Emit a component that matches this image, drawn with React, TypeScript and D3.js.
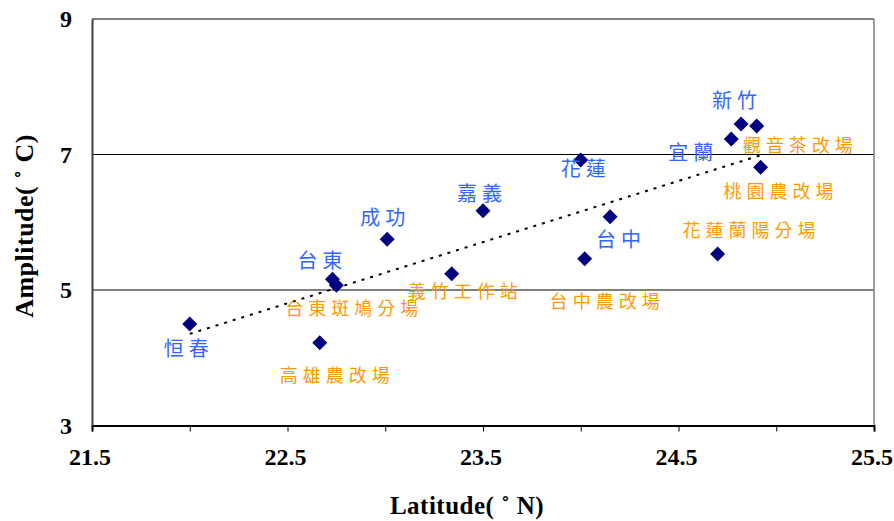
import * as d3 from "d3";
import React, { useRef, useEffect } from "react";

// station names, latitude (°N) and annual amplitude (°C)
const stations = [
  "恒春", "高雄農改場", "台東", "台東斑鳩分場", "成功", "義竹工作站", "嘉義",
  "花蓮", "台中", "台中農改場", "花蓮蘭陽分場", "宜蘭", "新竹", "觀音茶改場", "桃園農改場",
];
const latitude = [22.0, 22.665, 22.73, 22.75, 23.01, 23.34, 23.5, 24.0, 24.15, 24.02, 24.7, 24.77, 24.82, 24.9, 24.92];
const amplitude = [4.5, 4.22, 5.16, 5.07, 5.75, 5.24, 6.17, 6.92, 6.08, 5.46, 5.53, 7.23, 7.45, 7.42, 6.81];
// weather stations (blue) vs. agricultural stations (orange)
const stationType = ["cwb", "agri", "cwb", "agri", "cwb", "agri", "cwb", "cwb", "cwb", "agri", "agri", "cwb", "cwb", "agri", "agri"];

const xTicks = [21.5, 22.5, 23.5, 24.5, 25.5];
const yTicks = [3, 5, 7, 9];

// label placement, pixels from the marker
const labelOffsets = [
  [-26, 32], [-40, 39], [-35, -11], [-51, 30], [-27, -14], [-44, 24], [-26, -10],
  [-20, 16], [-14, 30], [-35, 49], [-35, -17], [-63, 21], [-29, -16], [-14, 26], [-37, 31],
];

const W = 894;
const H = 521;

const App = () => {
  const ref = useRef<SVGSVGElement | null>(null);

  useEffect(() => {
    const svg = d3.select(ref.current);
    svg.selectAll("*").remove();

    const x = d3.scaleLinear().domain([21.5, 25.5]).range([92, 874]);
    const y = d3.scaleLinear().domain([3, 9]).range([425.5, 19]);
    const serif = "'Liberation Serif', 'Times New Roman', serif";

    // grid + frame
    const grid = svg.append("g");
    grid.append("line").attr("x1", x(21.5)).attr("x2", x(25.5)).attr("y1", y(7)).attr("y2", y(7))
      .attr("stroke", "#000").attr("stroke-width", 1);
    grid.append("line").attr("x1", x(21.5)).attr("x2", x(25.5)).attr("y1", y(5)).attr("y2", y(5))
      .attr("stroke", "#808080").attr("stroke-width", 2);
    grid.append("line").attr("x1", x(21.5)).attr("x2", x(25.5)).attr("y1", y(9)).attr("y2", y(9))
      .attr("stroke", "#808080").attr("stroke-width", 2);
    grid.append("line").attr("x1", x(25.5)).attr("x2", x(25.5)).attr("y1", y(9)).attr("y2", y(3))
      .attr("stroke", "#808080").attr("stroke-width", 1.5);

    // x axis
    const xAxis = svg.append("g").attr("transform", `translate(0,${y(3)})`)
      .call(d3.axisBottom(x).tickValues(d3.range(21.5, 25.51, 0.5)).tickSize(6).tickFormat(() => ""));
    xAxis.select(".domain").attr("stroke", "#000").attr("stroke-width", 2);
    xAxis.selectAll(".tick line").attr("stroke", "#000");
    svg.append("g").selectAll("text").data(xTicks).enter().append("text")
      .attr("x", (d) => x(d) - 2).attr("y", 465)
      .attr("text-anchor", "middle").attr("font-family", serif).attr("font-weight", "bold")
      .attr("font-size", 24).text((d) => d.toFixed(1));

    // y axis
    const yAxis = svg.append("g").attr("transform", `translate(${x(21.5)},0)`)
      .call(d3.axisLeft(y).tickValues(yTicks).tickSize(0).tickFormat(() => ""));
    yAxis.select(".domain").attr("stroke", "#404040").attr("stroke-width", 2);
    svg.append("g").selectAll("text").data(yTicks).enter().append("text")
      .attr("x", 72).attr("y", (d) => y(d) + 8)
      .attr("text-anchor", "end").attr("font-family", serif).attr("font-weight", "bold")
      .attr("font-size", 24).text((d) => d);

    // axis titles
    svg.append("text").attr("x", 467).attr("y", 514).attr("text-anchor", "middle")
      .attr("font-family", serif).attr("font-weight", "bold").attr("font-size", 25)
      .attr("letter-spacing", 0.5)
      .text("Latitude( ˚ N)");
    svg.append("text").attr("transform", "translate(33,226) rotate(-90)").attr("text-anchor", "middle")
      .attr("font-family", serif).attr("font-weight", "bold").attr("font-size", 26)
      .attr("letter-spacing", 0.5)
      .text("Amplitude( ˚ C)");

    // linear trend (least squares)
    const mx = d3.mean(latitude) as number;
    const my = d3.mean(amplitude) as number;
    const sxy = d3.sum(latitude, (v, i) => (v - mx) * (amplitude[i] - my));
    const sxx = d3.sum(latitude, (v) => (v - mx) * (v - mx));
    const slope = sxy / sxx;
    const icpt = my - slope * mx;
    const ext = d3.extent(latitude) as [number, number];
    svg.append("path")
      .datum(ext)
      .attr("d", d3.line<number>().x((d) => x(d)).y((d) => y(icpt + slope * d)))
      .attr("fill", "none").attr("stroke", "#000").attr("stroke-width", 2)
      .attr("stroke-dasharray", "3 6");

    // markers
    const idx = d3.range(stations.length);
    svg.append("g").selectAll("path").data(idx).enter().append("path")
      .attr("transform", (i) => `translate(${x(latitude[i])},${y(amplitude[i])})`)
      .attr("d", "M0,-7.5L7.5,0L0,7.5L-7.5,0Z")
      .attr("fill", "#000080");

    // labels
    svg.append("g").selectAll("text").data(idx).enter().append("text")
      .attr("x", (i) => x(latitude[i]) + labelOffsets[i][0])
      .attr("y", (i) => y(amplitude[i]) + labelOffsets[i][1])
      .attr("font-family", "'Noto Sans CJK TC', 'Noto Sans CJK SC', sans-serif")
      .attr("font-size", (i) => (stationType[i] === "cwb" ? 20 : 18))
      .attr("letter-spacing", (i) => (stationType[i] === "cwb" ? 5 : 5))
      .attr("fill", (i) => (stationType[i] === "cwb" ? "#3366FF" : "#FF9900"))
      .text((i) => stations[i]);
  }, []);

  return (
    <svg
      ref={ref}
      width={W}
      height={H}
      style={{ position: "absolute", left: 0, top: 0, background: "#fff" }}
    />
  );
};

export default App;
